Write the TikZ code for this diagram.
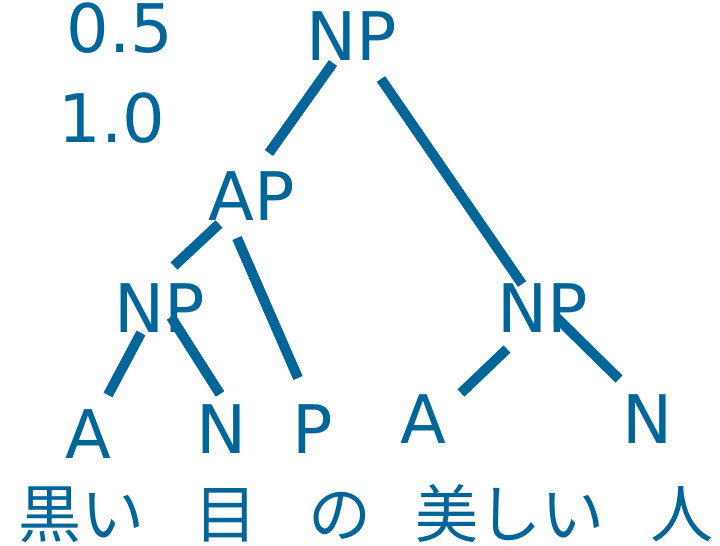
\documentclass[tikz,border=0pt]{standalone}
\usepackage{fontspec}
\setmainfont{DejaVu Sans}
\newfontfamily\jp{Noto Sans CJK JP}
\definecolor{treeblue}{RGB}{0,102,153}
\tikzset{
  cat/.style={text=treeblue, anchor=base, inner sep=0pt, font=\fontsize{67}{80}\selectfont},
  word/.style={text=treeblue, anchor=base, inner sep=0pt, font=\jp\fontsize{63}{76}\selectfont},
  branch/.style={draw=treeblue, line width=10pt, line cap=butt}
}
\begin{document}
\begin{tikzpicture}[x=1pt,y=-1pt]
\useasboundingbox (0,0) rectangle (720,546);
\node[cat] (w05) at (120,52) {0.5};
\node[cat] (w10) at (112,142) {1.0};
\node[cat] (np0) at (352,60) {NP};
\node[cat] (ap) at (252,220) {AP};
\node[cat] (np1) at (160,332) {NP};
\node[cat] (np2) at (543,332) {NP};
\node[cat] (a1) at (88,458) {A};
\node[cat] (n1) at (222,453) {N};
\node[cat] (p1) at (313,453) {P};
\node[cat] (a2) at (423,443) {A};
\node[cat] (n2) at (648,443) {N};
\node[word] (kuroi) at (82,537) {黒い};
\node[word] (me) at (226,537) {目};
\node[word] (no) at (340,537) {の};
\node[word] (utsukushii) at (510,537) {美しい};
\node[word] (hito) at (682,537) {人};

\coordinate (np0-l) at (333,63);
\coordinate (ap-u) at (269,153);
\coordinate (np0-r) at (381,79);
\coordinate (np2-u) at (522,284);
\coordinate (ap-l) at (219,224);
\coordinate (np1-u) at (174,266);
\coordinate (ap-r) at (237,238);
\coordinate (p1-u) at (298,378);
\coordinate (np1-l) at (141,333);
\coordinate (a1-u) at (108,395);
\coordinate (np1-r) at (171,317);
\coordinate (n1-u) at (220,394);
\coordinate (np2-l) at (507,349);
\coordinate (a2-u) at (461,393);
\coordinate (np2-r) at (557,318);
\coordinate (n2-u) at (619,379);

\path[branch] (np0-l) -- (ap-u);
\path[branch] (np0-r) -- (np2-u);
\path[branch] (ap-l) -- (np1-u);
\path[branch] (ap-r) -- (p1-u);
\path[branch] (np1-l) -- (a1-u);
\path[branch] (np1-r) -- (n1-u);
\path[branch] (np2-l) -- (a2-u);
\path[branch] (np2-r) -- (n2-u);
\end{tikzpicture}
\end{document}
